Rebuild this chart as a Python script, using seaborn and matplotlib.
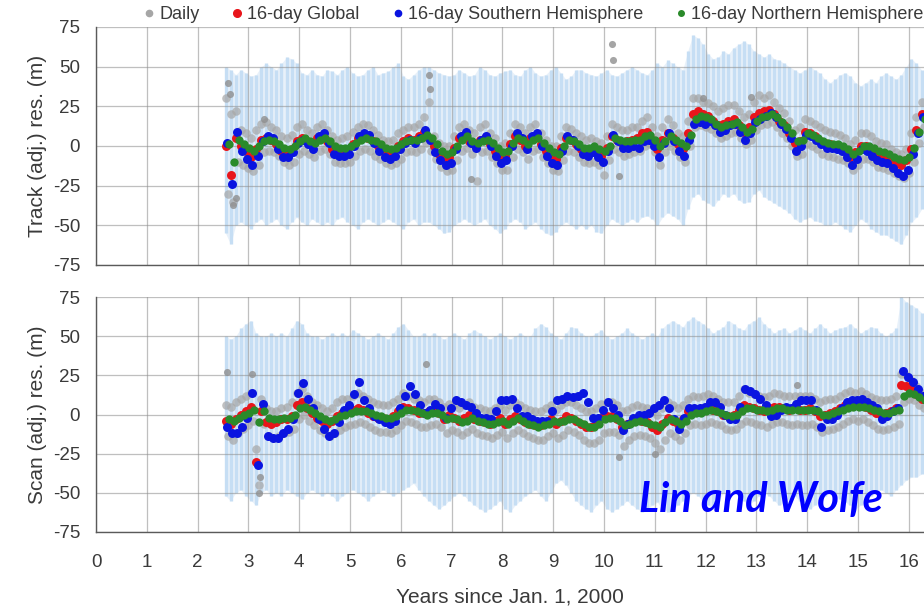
import numpy as np
import matplotlib
matplotlib.use("Agg")
import matplotlib.pyplot as plt
import seaborn as sns
from matplotlib.lines import Line2D

# ---------------- data (16-day samples every 0.1 yr starting 2.55 yr) -------------
start_year = 2.55
step_year = 0.1

# Track panel
track_global = [
    0, -18, 5, 0, -3, -7, -2, 4, 5, 4,
    1, -3, -4, -2, 3, 5, 3, 1, 5, 6,
    3, -2, -3, -3, -2, 1, 5, 6, 5, 3,
    0, -3, -4, -3, 0, 3, 5, 4, 6, 9,
    5, 0, -5, -8, -7, -1, 5, 7, 3, 1,
    4, 5, 1, -3, -7, -6, 1, 6, 4, 0,
    5, 6, 1, -3, -7, -8, -1, 5, 4, 1,
    -2, -3, -2, -4, -6, -1, 6, 4, 2, 3,
    4, 5, 8, 9, 4, -2, 4, 8, 5, 1,
    -2, 8, 20, 22, 20, 19, 16, 13, 14, 16,
    17, 13, 9, 12, 18, 21, 22, 23, 20, 16,
    13, 8, 2, 3, 9, 8, 6, 3, 2, 1,
    0, -1, -3, -7, -4, 0, 0, -2, -5, -6,
    -7, -9, -11, -12, -9, -2, 10, 20]
track_south = [
    2, -24, 9, -3, -8, -12, -6, 3, 6, 5,
    -2, -7, -7, -4, 2, 4, 1, -2, 6, 8,
    2, -5, -6, -6, -5, 0, 6, 8, 7, 2,
    -3, -7, -8, -6, -2, 2, 4, 2, 5, 10,
    4, -4, -9, -12, -11, -2, 6, 9, 2, -1,
    4, 6, 0, -6, -11, -9, 0, 8, 5, -2,
    6, 8, 0, -6, -11, -12, -3, 6, 4, 0,
    -5, -6, -4, -7, -10, -3, 7, 3, -1, -1,
    0, -1, 3, 4, 0, -7, 2, 8, 3, -3,
    -6, 4, 14, 15, 14, 16, 13, 9, 10, 13,
    14, 9, 4, 8, 15, 17, 19, 21, 18, 14,
    11, 5, -3, 0, 7, 6, 4, 1, -1, -1,
    -2, -3, -7, -12, -8, -2, -3, -6, -9, -10,
    -11, -14, -17, -19, -15, -5, 8, 18]
track_north = [
    1, -10, 4, 1, -1, -3, 0, 3, 4, 3,
    1, -1, -2, 0, 3, 5, 3, 2, 4, 5,
    3, 0, -1, -1, 0, 2, 4, 5, 4, 3,
    1, -1, -2, -1, 1, 3, 4, 4, 5, 7,
    5, 1, -3, -5, -4, 0, 4, 6, 3, 2,
    3, 4, 2, -1, -4, -3, 2, 5, 4, 1,
    4, 5, 2, -1, -4, -5, 0, 4, 3, 1,
    -1, -1, 0, -2, -3, 0, 5, 4, 3, 3,
    4, 4, 6, 7, 4, 0, 3, 6, 4, 2,
    0, 7, 17, 19, 18, 17, 14, 12, 13, 14,
    15, 12, 9, 11, 16, 18, 19, 20, 18, 15,
    12, 8, 3, 4, 8, 7, 5, 3, 2, 1,
    1, 0, -2, -5, -3, 0, 0, -1, -3, -4,
    -5, -7, -8, -9, -7, -1, 9, 17]
track_daily_high = [
    30, 20, 22, 10, 8, 5, 10, 14, 15, 12,
    10, 6, 5, 7, 12, 14, 10, 8, 12, 14,
    10, 6, 4, 5, 6, 9, 12, 14, 13, 10,
    7, 4, 3, 4, 8, 10, 12, 12, 14, 18,
    28, 6, 2, 0, 0, 6, 12, 14, 10, 8,
    12, 14, 8, 5, 0, 2, 8, 14, 12, 8,
    12, 14, 8, 4, 0, 0, 6, 12, 11, 8,
    6, 4, 5, 3, 2, 6, 14, 12, 10, 10,
    12, 12, 16, 18, 12, 6, 12, 17, 13, 8,
    6, 16, 30, 30, 28, 27, 25, 22, 24, 26,
    26, 22, 18, 20, 28, 32, 30, 32, 28, 24,
    21, 16, 10, 12, 17, 16, 14, 12, 10, 9,
    8, 7, 5, 1, 4, 8, 8, 6, 3, 2,
    1, -2, -4, -5, -2, 8, 18, 28]
track_daily_low = [
    -30, -35, -10, -12, -14, -16, -12, -4, -3, -4,
    -6, -10, -12, -10, -5, -3, -5, -7, -3, -2,
    -5, -10, -11, -11, -10, -6, -3, -2, -3, -6,
    -8, -11, -12, -11, -8, -4, -3, -4, -2, 2,
    -3, -8, -13, -16, -15, -9, -3, -1, -5, -22,
    -4, -3, -7, -11, -15, -15, -7, -2, -4, -8,
    -3, -2, -7, -11, -15, -16, -9, -3, -4, -7,
    -10, -11, -10, -12, -18, -9, -2, -4, -6, -5,
    -4, -3, 0, 1, -4, -12, -4, 0, -3, -7,
    -10, 0, 12, 13, 12, 11, 8, 5, 6, 8,
    9, 5, 1, 4, 10, 13, 14, 15, 12, 8,
    5, 0, -6, -5, 1, 0, -2, -5, -6, -7,
    -8, -9, -11, -15, -12, -8, -8, -10, -13, -14,
    -15, -17, -19, -20, -17, -10, 2, 12]
track_err_high = [
    50, 48, 45, 48, 46, 44, 45, 50, 52, 50,
    48, 52, 56, 55, 52, 46, 45, 48, 45, 44,
    48, 47, 45, 48, 50, 46, 44, 45, 48, 50,
    45, 46, 47, 50, 52, 44, 42, 45, 48, 50,
    50, 48, 46, 45, 44, 45, 48, 46, 44, 45,
    50, 48, 45, 44, 46, 47, 48, 45, 44, 48,
    50, 46, 44, 45, 48, 50, 46, 42, 44, 48,
    48, 46, 45, 44, 46, 48, 45, 44, 46, 48,
    50, 48, 46, 45, 48, 52, 50, 54, 52, 50,
    48, 60, 70, 68, 64, 58, 55, 56, 60, 58,
    62, 64, 66, 64, 60, 58, 56, 58, 55, 54,
    52, 50, 48, 46, 48, 50, 48, 46, 42, 40,
    42, 45, 46, 44, 40, 38, 40, 42, 40, 44,
    46, 44, 42, 45, 50, 55, 52, 48]
track_err_low = [
    -55, -62, -50, -48, -50, -52, -48, -46, -50, -48,
    -46, -50, -52, -48, -45, -48, -50, -46, -48, -50,
    -48, -50, -46, -45, -48, -50, -52, -48, -46, -48,
    -50, -48, -46, -48, -50, -52, -48, -46, -50, -48,
    -48, -50, -52, -55, -54, -50, -48, -46, -48, -50,
    -48, -46, -50, -52, -55, -52, -48, -46, -48, -52,
    -50, -48, -52, -55, -56, -54, -50, -48, -50, -52,
    -50, -52, -50, -54, -55, -50, -46, -48, -50, -48,
    -46, -48, -45, -44, -46, -50, -45, -42, -44, -46,
    -50, -40, -32, -30, -34, -36, -38, -34, -30, -32,
    -30, -34, -36, -35, -30, -28, -32, -34, -36, -38,
    -40, -42, -46, -48, -46, -45, -47, -48, -50, -50,
    -48, -50, -52, -54, -50, -46, -48, -52, -54, -56,
    -56, -58, -60, -62, -56, -48, -45, -40]
track_outlier_years = [2.60, 2.63, 2.70, 2.76, 3.30, 6.55, 6.57, 10.15, 10.17, 7.38, 10.3, 12.9, 11.95]
track_outlier_values = [40, 33, -37, -33, 17, 45, 36, 64, 54, -21, -19, 31, 30]

# Scan panel
scan_global = [
    -4, -6, -3, 0, 2, 5, -30, 2, -5, -6,
    -5, -3, -3, -1, 6, 8, 4, 1, -2, -4,
    -6, -4, -1, 1, 2, 3, 4, 3, 1, -1,
    -2, -2, -3, -1, 2, 5, 4, 3, 1, 1,
    2, 3, 1, -3, 0, -2, -4, -2, 0, -3,
    -4, -5, -6, -4, -2, -6, -3, -1, -3, -5,
    -6, -7, -7, -5, -3, -6, -4, -1, -2, -4,
    -6, -8, -8, -6, -2, -1, -1, -3, -8, -6,
    -4, -3, -4, -5, -8, -10, -6, -2, -4, -6,
    -3, 2, 3, 2, 3, 4, 3, 2, 0, -1,
    0, 3, 6, 5, 4, 3, 2, 4, 5, 5,
    4, 3, 4, 3, 3, 4, 2, -1, 0, 1,
    2, 4, 6, 7, 6, 7, 5, 3, 1, 0,
    1, 2, 4, 19, 18, 16, 13, 10]
scan_south = [
    -8, -12, -12, -8, -2, 14, -32, 7, -14, -15,
    -15, -12, -9, -3, 14, 20, 10, 4, -3, -9,
    -14, -12, -5, 3, 6, 13, 21, 9, 4, -1,
    -3, -5, -6, -4, 4, 12, 18, 13, 6, 1,
    3, 7, 4, -2, 4, 9, 8, 6, 5, 1,
    -2, -2, -3, 2, 9, 9, 10, 4, -1, -1,
    -3, -4, -4, -4, 2, 9, 10, 12, 11, 12,
    14, 8, -2, -2, 3, 8, 4, 0, -10, -6,
    -2, 0, 0, 1, 4, 6, 9, 4, -3, -9,
    -2, 4, 4, 4, 5, 8, 8, 5, 0, -3,
    -3, 5, 16, 15, 13, 10, 6, -1, 0, 3,
    5, 4, 7, 9, 9, 9, 3, -8, -3, -3,
    0, 4, 8, 9, 9, 10, 8, 6, 4, -3,
    -1, 2, 4, 28, 24, 21, 16, 12]
scan_north = [
    -3, -4, -2, 0, 1, 3, -5, 2, -2, -3,
    -3, -2, -2, 0, 4, 5, 3, 1, -1, -3,
    -4, -3, -1, 0, 1, 2, 2, 2, 1, 0,
    -1, -2, -2, -1, 1, 3, 3, 2, 1, 0,
    1, 1, 0, -3, -2, -3, -5, -4, -2, -4,
    -5, -6, -6, -5, -4, -6, -4, -2, -4, -6,
    -7, -8, -7, -6, -4, -5, -4, -3, -3, -5,
    -6, -8, -8, -6, -3, -2, -2, -4, -7, -6,
    -5, -4, -5, -6, -7, -8, -5, -3, -4, -6,
    -4, 0, 1, 1, 2, 3, 2, 1, 0, -1,
    0, 2, 4, 4, 3, 3, 2, 3, 4, 4,
    3, 3, 3, 3, 3, 3, 2, 0, 0, 1,
    2, 3, 4, 5, 5, 5, 4, 3, 2, 1,
    1, 2, 3, 12, 14, 13, 11, 9]
scan_daily_high = [
    6, 5, 8, 10, 12, 14, -22, 10, 4, 2,
    2, 4, 5, 8, 14, 16, 12, 8, 6, 4,
    2, 4, 8, 10, 10, 12, 14, 12, 10, 8,
    7, 6, 6, 8, 10, 14, 12, 10, 9, 8,
    10, 10, 8, 5, 7, 6, 4, 6, 8, 5,
    4, 3, 2, 4, 6, 3, 6, 8, 6, 4,
    3, 2, 2, 4, 6, 3, 6, 8, 8, 6,
    4, 2, 2, 4, 7, 8, 8, 6, 2, 3,
    5, 6, 5, 4, 2, 0, 4, 8, 6, 4,
    6, 10, 12, 11, 12, 13, 12, 10, 8, 8,
    8, 12, 16, 14, 13, 12, 11, 12, 14, 13,
    12, 12, 12, 12, 12, 12, 10, 8, 9, 10,
    10, 12, 14, 15, 14, 15, 13, 11, 10, 9,
    9, 10, 12, 26, 25, 22, 18, 14]
scan_daily_low = [
    -14, -16, -12, -9, -7, -4, -45, -6, -14, -15,
    -14, -12, -11, -9, -3, 0, -4, -7, -10, -12,
    -14, -12, -10, -8, -7, -6, -5, -6, -8, -10,
    -11, -11, -12, -10, -7, -4, -5, -6, -8, -8,
    -7, -6, -8, -12, -10, -11, -13, -11, -9, -12,
    -13, -14, -15, -13, -11, -15, -12, -10, -12, -14,
    -15, -16, -16, -14, -12, -15, -13, -10, -11, -13,
    -16, -18, -18, -16, -12, -11, -11, -13, -20, -16,
    -14, -13, -14, -15, -18, -22, -16, -12, -14, -16,
    -12, -7, -6, -7, -6, -5, -6, -7, -9, -10,
    -9, -6, -4, -5, -6, -7, -8, -6, -5, -5,
    -6, -7, -6, -7, -7, -6, -8, -11, -10, -9,
    -8, -6, -4, -3, -4, -3, -5, -7, -9, -10,
    -9, -8, -6, 8, 10, 9, 6, 4]
scan_err_high = [
    50, 48, 50, 55, 58, 60, 52, 50, 50, 52,
    50, 52, 50, 55, 60, 58, 52, 50, 50, 48,
    50, 52, 50, 52, 50, 54, 52, 50, 48, 50,
    52, 50, 48, 52, 56, 58, 54, 50, 50, 52,
    50, 52, 50, 48, 50, 52, 50, 48, 52, 54,
    52, 50, 48, 50, 52, 50, 48, 50, 52, 50,
    50, 55, 58, 56, 52, 50, 48, 52, 56, 55,
    52, 50, 50, 52, 54, 50, 48, 50, 52, 55,
    52, 50, 48, 50, 52, 50, 55, 58, 60, 58,
    56, 60, 62, 60, 58, 55, 52, 54, 56, 60,
    58, 55, 54, 58, 60, 62, 58, 55, 52, 54,
    55, 52, 54, 56, 54, 52, 55, 58, 55, 52,
    54, 55, 56, 58, 55, 52, 54, 56, 55, 52,
    50, 52, 55, 75, 72, 70, 68, 65]
scan_err_low = [
    -52, -55, -50, -48, -52, -55, -58, -50, -48, -52,
    -50, -52, -48, -50, -52, -54, -50, -48, -50, -52,
    -50, -52, -55, -52, -50, -48, -50, -52, -55, -52,
    -50, -48, -50, -52, -50, -48, -46, -44, -48, -52,
    -55, -58, -60, -58, -55, -52, -50, -52, -55, -58,
    -60, -62, -60, -58, -55, -60, -62, -58, -55, -52,
    -50, -48, -52, -55, -50, -44, -42, -45, -50, -55,
    -58, -60, -62, -58, -55, -60, -62, -60, -58, -55,
    -58, -60, -62, -60, -58, -56, -60, -62, -60, -58,
    -55, -52, -50, -52, -55, -58, -60, -55, -50, -48,
    -50, -52, -55, -58, -55, -52, -50, -52, -55, -58,
    -56, -54, -52, -55, -58, -60, -58, -55, -52, -50,
    -52, -54, -56, -58, -60, -58, -55, -52, -50, -48,
    -50, -52, -48, -45, -42, -40, -40, -38]
scan_outlier_years = [2.57, 3.07, 6.50, 3.20, 3.22, 10.3, 11.0, 13.8]
scan_outlier_values = [27, 26, 32, -50, -40, -27, -25, 19]

year_ticks = list(range(0, 17))
res_ticks = [-75, -50, -25, 0, 25, 50, 75]
legend_labels = ["Daily", "16-day Global", "16-day Southern Hemisphere",
                 "16-day Northern Hemisphere"]

# ---------------- style ----------------
sns.set_style("white")
plt.rcParams["font.family"] = ["Liberation Sans", "DejaVu Sans"]
plt.rcParams["axes.unicode_minus"] = False

C_DAILY = "#a6a6a6"
C_GLOBAL = "#e8151b"
C_SOUTH = "#0a14e0"
C_NORTH = "#2a8a2a"
C_ERR = "#c6def4"
C_TXT = "#3a3a3a"

years = np.round(start_year + step_year * np.arange(len(track_global)), 3)

fig = plt.figure(figsize=(9.24, 6.10), dpi=100)
ax1 = fig.add_axes([96 / 924, 1 - 265 / 610, 1 - 96 / 924, 238 / 610])
ax2 = fig.add_axes([96 / 924, 1 - 532 / 610, 1 - 96 / 924, 235 / 610])


def draw(ax, g, s, n, dh, dl, eh, el, oy, ov):
    ax.fill_between(years, el, eh, color="#e8f1fa", lw=0, zorder=1)
    ax.vlines(years, el, eh, color=C_ERR, lw=2.4, zorder=1.5)
    for y0 in res_ticks:
        ax.axhline(y0, color="#8c8c8c", lw=0.9, alpha=0.55, zorder=2)
    for x0 in year_ticks:
        ax.axvline(x0, color="#8c8c8c", lw=0.9, alpha=0.55, zorder=2)
    kw = dict(ax=ax, linewidth=0, legend=False)
    sns.scatterplot(x=years, y=dh, color=C_DAILY, s=38, alpha=0.7, zorder=3, **kw)
    sns.scatterplot(x=years + 0.05, y=dl, color=C_DAILY, s=38, alpha=0.7, zorder=3, **kw)
    sns.scatterplot(x=oy, y=ov, color="#8f8f8f", s=26, alpha=0.8, zorder=3, **kw)
    sns.scatterplot(x=years, y=g, color=C_GLOBAL, s=42, zorder=4, **kw)
    sns.scatterplot(x=years + 0.03, y=s, color=C_SOUTH, s=42, zorder=5, **kw)
    sns.scatterplot(x=years + 0.06, y=n, color=C_NORTH, s=36, zorder=6, **kw)
    ax.set_xlim(0, (924 - 96) / 50.8)
    ax.set_ylim(-75, 75)
    ax.set_xticks(year_ticks)
    ax.set_yticks(res_ticks)
    for side in ["top", "right"]:
        ax.spines[side].set_visible(False)
    for side in ["left", "bottom"]:
        ax.spines[side].set_color("#5a5a5a")
        ax.spines[side].set_linewidth(1.0)
    ax.tick_params(direction="inout", length=7, width=1, color="#5a5a5a",
                   labelcolor=C_TXT, labelsize=13.5)
    ax.tick_params(axis="y", pad=8)
    ax.tick_params(axis="x", pad=12)
    ax.set_facecolor("white")


draw(ax1, track_global, track_south, track_north, track_daily_high, track_daily_low,
     track_err_high, track_err_low, track_outlier_years, track_outlier_values)
draw(ax2, scan_global, scan_south, scan_north, scan_daily_high, scan_daily_low,
     scan_err_high, scan_err_low, scan_outlier_years, scan_outlier_values)

ax1.tick_params(axis="x", labelbottom=False)
ax1.set_ylabel("Track (adj.) res. (m)", fontsize=15, color=C_TXT, labelpad=4)
ax2.set_ylabel("Scan (adj.) res. (m)", fontsize=15, color=C_TXT, labelpad=4)
ax2.set_xlabel("Years since Jan. 1, 2000", fontsize=15, color=C_TXT, labelpad=12)

handles = [
    Line2D([], [], ls="", marker="o", color=C_DAILY, markersize=4.5),
    Line2D([], [], ls="", marker="o", color=C_GLOBAL, markersize=5.5),
    Line2D([], [], ls="", marker="o", color=C_SOUTH, markersize=4.5),
    Line2D([], [], ls="", marker="o", color=C_NORTH, markersize=4),
]
fig.legend(handles, legend_labels, loc="upper left", bbox_to_anchor=(124 / 924, 1.017),
           ncol=4, frameon=False, fontsize=13, handletextpad=0.05,
           columnspacing=1.6, handlelength=1.0, labelcolor=C_TXT)

fig.text(761 / 924, 1 - 500 / 610, "Lin and Wolfe", color="#0000ff", fontsize=30,
         fontweight="bold", fontstyle="italic", family=["Lato", "DejaVu Sans"],
         ha="center", va="center")

fig.savefig("out.png", dpi=100)
